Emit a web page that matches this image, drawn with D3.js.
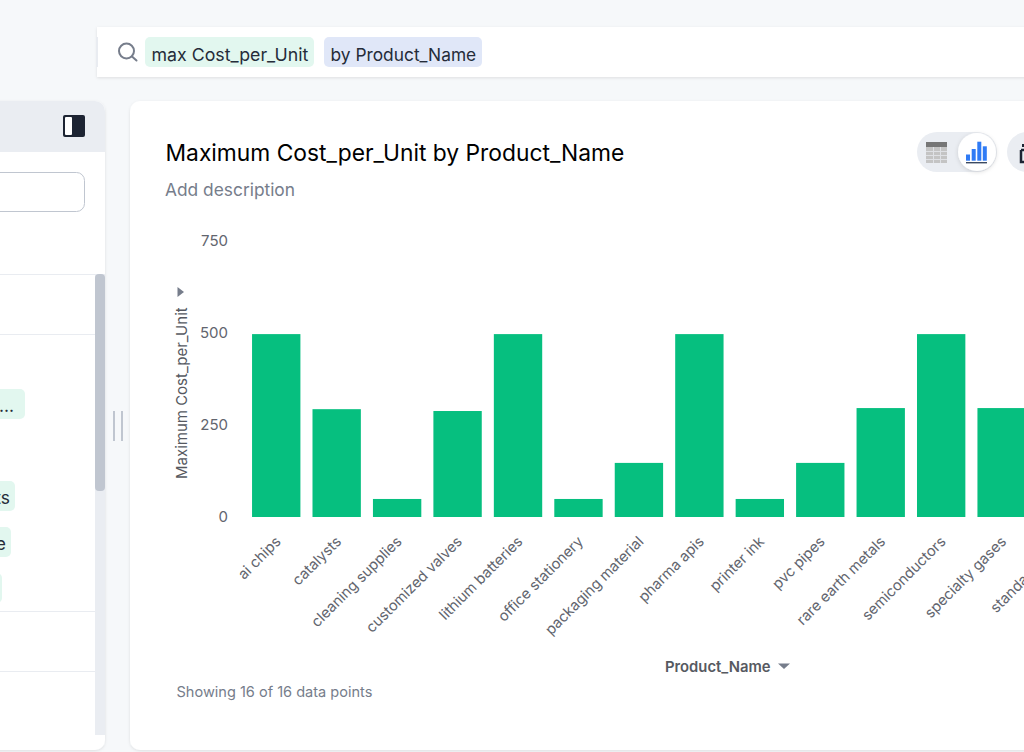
<!DOCTYPE html>
<html>
<head>
<meta charset="utf-8">
<script src="https://d3js.org/d3.v7.min.js"></script>
<style>
    html, body { margin: 0; padding: 0; background: #f6f8fa; overflow: hidden; }
    text { font-family: Inter, "Liberation Sans", sans-serif; }
</style>
</head>
<body>
<svg id="page" width="1024" height="752"></svg>
<script>
// the 14th bar and the last two products are cut off by the window
var categories = ["ai chips", "catalysts", "cleaning supplies", "customized valves", "lithium batteries",
    "office stationery", "packaging material", "pharma apis", "printer ink", "pvc pipes",
    "rare earth metals", "semiconductors", "specialty gases", "standard parts"];
var maxCost = [497, 293, 49, 288, 497, 49, 147, 497, 49, 147, 296, 497, 296];
var yTicks = [0, 250, 500, 750];
var chipLabels = ["...", "ts", "e", ""];

var svg = d3.select("#page");

function box(parent, x, y, w, h, r, fill) {
    return parent.append("rect").attr("x", x).attr("y", y).attr("width", w).attr("height", h)
        .attr("rx", r).attr("fill", fill);
}
function label(parent, x, y, txt, size, color, weight) {
    return parent.append("text").attr("x", x).attr("y", y).attr("font-size", size)
        .attr("fill", color).attr("font-weight", weight || 400).text(txt);
}

var defs = svg.append("defs");
var shadow = defs.append("filter").attr("id", "soft").attr("x", "-10%").attr("y", "-10%")
    .attr("width", "120%").attr("height", "120%");
shadow.append("feDropShadow").attr("dx", 0).attr("dy", 1).attr("stdDeviation", 1.5)
    .attr("flood-color", "#000").attr("flood-opacity", 0.1);
var knobShadow = defs.append("filter").attr("id", "knob").attr("x", "-30%").attr("y", "-30%")
    .attr("width", "160%").attr("height", "160%");
knobShadow.append("feDropShadow").attr("dx", 0).attr("dy", 1).attr("stdDeviation", 2)
    .attr("flood-color", "#000").attr("flood-opacity", 0.14);

// search bar
box(svg, 97, 27, 960, 50, 0, "#fff").attr("filter", "url(#soft)");
box(svg, 96, 37, 2, 30, 0, "#e9ecf1");
svg.append("circle").attr("cx", 126.5).attr("cy", 51).attr("r", 7.5)
    .attr("fill", "none").attr("stroke", "#767d8b").attr("stroke-width", 2);
svg.append("line").attr("x1", 132).attr("y1", 56.5).attr("x2", 136.5).attr("y2", 60.5)
    .attr("stroke", "#767d8b").attr("stroke-width", 2).attr("stroke-linecap", "round");
box(svg, 145, 37, 169, 30, 5, "#e2f7ef");
label(svg, 151.5, 60.5, "max Cost_per_Unit", 17.75, "#252c39");
box(svg, 324, 37, 158, 30, 5, "#e0e7f8");
label(svg, 330.5, 60.5, "by Product_Name", 17.35, "#252c39");

// left panel
box(svg, -20, 101, 125, 649, 10, "#fff").attr("filter", "url(#soft)");
svg.append("path").attr("fill", "#eaedf2")
    .attr("d", "M-20,101H95a10,10 0 0 1 10,10V152H-20Z");
box(svg, 63, 115, 22, 22, 2, "#1d2433");
box(svg, 65, 117, 7, 18, 1, "#fff");
svg.append("rect").attr("x", -20).attr("y", 172.5).attr("width", 104.5).attr("height", 39)
    .attr("rx", 8).attr("fill", "#fff").attr("stroke", "#c0c6d0");

var dividerY = [274, 334, 611, 671];
var chipY = [389, 481, 527, 573];
var chipRight = [25, 15, 11, 2];
var chipTextEnd = [14, 10, 6, 0];
var sidebar = svg.append("g");
sidebar.selectAll("line").data(dividerY).enter().append("line")
    .attr("x1", 0).attr("x2", 95)
    .attr("y1", d => d + 0.5).attr("y2", d => d + 0.5)
    .attr("stroke", "#e9ecf1");
sidebar.selectAll("rect").data(chipLabels).enter().append("rect")
    .attr("x", -10).attr("y", (d, i) => chipY[i]).attr("width", (d, i) => chipRight[i] + 10).attr("height", 30)
    .attr("rx", 5).attr("fill", "#e2f7ef");
sidebar.selectAll("text").data(chipLabels).enter().append("text")
    .attr("x", (d, i) => chipTextEnd[i]).attr("y", (d, i) => chipY[i] + 23).attr("text-anchor", "end")
    .attr("font-size", 17.4).attr("fill", "#252c39").text(d => d);
box(svg, 95, 274, 10, 461, 0, "#eaedf2");
box(svg, 95, 274, 10, 217, 4, "#c0c6d0");

// drag handle between the panels
box(svg, 113, 411, 2, 30, 0, "#c0c6d0");
box(svg, 121, 411, 2, 30, 0, "#c0c6d0");

// chart card
box(svg, 130, 101, 960, 649, 10, "#fff").attr("filter", "url(#soft)");
label(svg, 165.5, 161, "Maximum Cost_per_Unit by Product_Name", 22.8, "#000");
label(svg, 165, 195.5, "Add description", 17.35, "#767d8b");

// table / chart switch
box(svg, 917, 132, 80, 40, 20, "#eaedf2");
box(svg, 926, 142, 21, 5, 0, "#767676");
box(svg, 926, 147, 21, 16, 0, "#c4c4c4");
[933, 940].forEach(x => box(svg, x, 147, 1, 16, 0, "#dfe1e5"));
[151, 155, 159].forEach(y => box(svg, 926, y, 21, 1, 0, "#dfe1e5"));
svg.append("circle").attr("cx", 977).attr("cy", 152).attr("r", 19).attr("fill", "#fff").attr("filter", "url(#knob)");
[[966, 154.5, 4], [971.7, 149, 4], [977.3, 141.7, 4], [982.8, 146.3, 4]].forEach(b => {
    box(svg, b[0], b[1], b[2], 160.7 - b[1], 0, "#2f7bf5");
});
box(svg, 966, 162, 21, 1.4, 0, "#3b4a63");
// next control, only its left edge is in the window
box(svg, 1007, 132, 60, 40, 20, "#eaedf2");
svg.append("path").attr("fill", "none").attr("stroke", "#1d2433").attr("stroke-width", 2.5)
    .attr("d", "M1021,150H1030M1021,150V162H1030");
svg.append("rect").attr("x", 1022).attr("y", 144).attr("width", 3).attr("height", 3).attr("fill", "#1d2433");

// the chart itself
var margin = {left: 246, top: 241, bottom: 517};
var stepX = 60.45;
var x = d3.scaleBand()
    .domain(categories)
    .range([margin.left, margin.left + stepX * categories.length])
    .paddingInner(0.2)
    .paddingOuter(0.1);
var y = d3.scaleLinear().domain([0, 750]).range([margin.bottom, margin.top]);

var chart = svg.append("g");
chart.selectAll("rect.bar").data(maxCost).enter().append("rect")
    .attr("class", "bar")
    .attr("x", (d, i) => x(categories[i]))
    .attr("y", d => y(d))
    .attr("width", x.bandwidth())
    .attr("height", d => y(0) - y(d))
    .attr("fill", "#06bf7f");

var yAxis = d3.axisLeft(y).tickValues(yTicks).tickSize(0).tickPadding(0);
var yG = chart.append("g").attr("transform", "translate(228,0)").call(yAxis);
yG.select(".domain").remove();
yG.selectAll("text").attr("font-size", 15).attr("fill", "#62656e").attr("font-family", "Inter");

var xAxis = d3.axisBottom(x).tickSize(0).tickPadding(0);
var xG = chart.append("g").attr("transform", "translate(0," + margin.bottom + ")").call(xAxis);
xG.select(".domain").remove();
xG.selectAll("text")
    .attr("font-size", 14.7).attr("fill", "#62656e").attr("font-family", "Inter")
    .attr("text-anchor", "end")
    .attr("dy", 0)
    .attr("transform", "translate(5.5,25.5) rotate(-45)");

label(svg, 0, 0, "Maximum Cost_per_Unit", 15, "#565961", 400)
    .attr("transform", "translate(187,479) rotate(-90)");
svg.append("path").attr("fill", "#767d8b").attr("d", "M177.5,287L184,292L177.5,297Z");

label(svg, 665, 672, "Product_Name", 14.8, "#565961", 600);
svg.append("path").attr("fill", "#767d8b").attr("d", "M778,663.5H790L784,669Z");
label(svg, 176.5, 697, "Showing 16 of 16 data points", 14.55, "#767d8b");
</script>
</body>
</html>
